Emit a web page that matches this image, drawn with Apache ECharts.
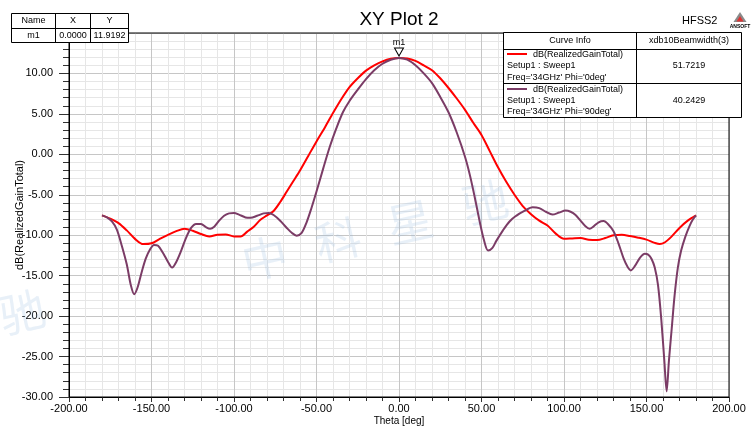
<!DOCTYPE html>
<html><head><meta charset="utf-8">
<script src="https://cdn.jsdelivr.net/npm/echarts@6/dist/echarts.min.js"></script>
<style>html,body{margin:0;padding:0;background:#fff}#c{width:756px;height:430px}</style>
</head><body><div id="c"></div>
<script>
// Phi = 0deg curve
const thetaPhi0 = [-180,-175,-170,-165,-160,-155,-150,-145,-140,-135,-130,-125,-120,-115,-110,-105,-100,-96,-92,-88,-84,-80,-76,-72,-68,-64,-60,-55,-50,-45,-40,-35,-30,-25,-20,-15,-10,-5,0,5,10,15,20,25,30,35,40,45,50,55,60,65,70,75,80,85,90,95,100,105,110,115,120,125,130,135,140,145,150,155,158,161,165,170,175,180];
const gainPhi0 = [-7.55,-7.95,-8.5,-9.4,-10.45,-11.1,-11.0,-10.45,-9.95,-9.5,-9.2,-9.45,-9.85,-10.15,-9.95,-9.9,-10.15,-10.15,-9.55,-8.95,-8.1,-7.55,-7.0,-5.9,-4.6,-3.3,-2.0,-0.2,1.6,3.3,5.1,6.8,8.3,9.4,10.35,11.0,11.5,11.82,11.92,11.85,11.55,11.0,10.4,9.4,8.2,6.9,5.5,3.9,2.4,0.4,-1.6,-3.4,-5.0,-6.4,-7.4,-8.2,-8.8,-9.8,-10.45,-10.4,-10.35,-10.55,-10.6,-10.35,-10.0,-9.95,-10.1,-10.3,-10.55,-10.95,-11.1,-10.9,-10.2,-9.1,-8.2,-7.55];
// Phi = 90deg curve
const thetaPhi90 = [-180,-177,-174,-171,-168,-165,-162.5,-160.5,-158.5,-156,-153.5,-151,-148.5,-146,-143,-140,-137.5,-135,-132,-129,-126,-123,-120,-117,-114.5,-112,-109,-106,-103,-100,-97,-93,-90,-86,-82,-79,-76,-72,-68,-65,-62,-59,-56,-53,-50,-46,-42,-38,-34,-30,-25,-20,-15,-10,-5,0,5,10,15,20,25,30,35,40,43,46,49,51.5,54,56.5,59,63,67,71,76,81,85,89,93,97,101,104,107,110,113,115.5,118,121,124,127,130,133,136,138.5,140.5,143,146,149,151,153,155,157,159,160.8,162.2,163.6,165.3,167,169,171,173.5,176,178,180];
const gainPhi90 = [-7.55,-7.8,-8.3,-9.3,-11.3,-13.6,-16.2,-17.3,-16.5,-14.6,-12.9,-11.8,-11.2,-11.3,-12.2,-13.3,-14.0,-13.3,-11.9,-10.3,-9.1,-8.6,-8.6,-9.0,-9.2,-8.95,-8.2,-7.6,-7.3,-7.25,-7.45,-7.8,-7.85,-7.6,-7.3,-7.25,-7.5,-8.2,-9.1,-9.7,-10.05,-9.7,-8.4,-6.6,-4.6,-1.8,0.9,3.2,5.2,6.6,8.0,9.3,10.4,11.2,11.7,11.92,11.7,11.0,10.0,8.8,7.1,5.2,2.7,-0.3,-2.6,-5.4,-8.4,-10.6,-11.9,-11.6,-10.7,-9.4,-8.3,-7.6,-7.0,-6.55,-6.65,-7.1,-7.45,-7.2,-6.95,-7.1,-7.5,-8.2,-8.9,-9.2,-8.9,-8.4,-8.25,-8.7,-9.5,-11.0,-12.8,-13.9,-14.35,-13.8,-12.8,-12.3,-12.4,-12.9,-14.0,-16.2,-20.5,-25.5,-29.3,-25.5,-21.5,-17.5,-14.0,-11.9,-10.2,-8.9,-8.1,-7.55];
const markerX = 0.0;
const markerY = 11.9192;
const beamwidthPhi0 = '51.7219';
const beamwidthPhi90 = '40.2429';

const FONT = "'Liberation Sans', Arial, sans-serif";
const RED = '#ff0000';
const PURPLE = '#7b3c66';

const chart = echarts.init(document.getElementById('c'), null, {renderer: 'canvas'});

function zip(xs, ys) { return xs.map((x, i) => [x, ys[i]]); }

const txt = (x, y, s, opts) => Object.assign({
  type: 'text', z: 101, x: x, y: y,
  style: Object.assign({text: s, fill: '#000', font: '9px ' + FONT, textAlign: 'left', textVerticalAlign: 'middle'}, opts || {})
});
const ln = (x1, y1, x2, y2, color, w) => ({
  type: 'line', z: 101, shape: {x1, y1, x2, y2}, style: {stroke: color || '#000', lineWidth: w || 1}
});

const wm = (x, y, s, size) => ({
  type: 'text', z: 1, x: x, y: y, rotation: 0.22,
  style: {text: s, fill: 'rgba(140,180,220,0.2)', font: size + 'px "Noto Sans CJK SC"', textAlign: 'center', textVerticalAlign: 'middle'}
});

const option = {
  animation: false,
  backgroundColor: '#fff',
  grid: {left: 69, top: 33, width: 660, height: 364, outerBoundsMode: 'none', containLabel: false,
         show: true, borderColor: '#000', borderWidth: 1, backgroundColor: 'transparent', z: 3},
  xAxis: {
    type: 'value', min: -200, max: 200, interval: 50,
    name: 'Theta [deg]', nameLocation: 'middle', nameGap: 19, nameMoveOverlap: false,
    nameTextStyle: {fontFamily: FONT, fontSize: 10, color: '#000'},
    axisLine: {show: true, onZero: false, lineStyle: {color: '#000', width: 1}},
    axisTick: {show: true, length: 5, lineStyle: {color: '#333'}},
    minorTick: {show: true, splitNumber: 5, length: 4, lineStyle: {color: '#333'}},
    splitLine: {show: true, lineStyle: {color: '#c6c6c6', width: 1}},
    minorSplitLine: {show: true, lineStyle: {color: '#e6e6e6', width: 1}},
    axisLabel: {fontFamily: FONT, fontSize: 11, color: '#000', margin: 6, formatter: v => v.toFixed(2)}
  },
  yAxis: {
    type: 'value', min: -30, max: 15, interval: 5,
    name: 'dB(RealizedGainTotal)', nameLocation: 'middle', nameGap: 44, nameRotate: 90, nameMoveOverlap: false,
    nameTextStyle: {fontFamily: FONT, fontSize: 11, color: '#000'},
    axisLine: {show: true, onZero: false, lineStyle: {color: '#000', width: 1}},
    axisTick: {show: true, length: 10, lineStyle: {color: '#333'}},
    minorTick: {show: true, splitNumber: 5, length: 6, lineStyle: {color: '#333'}},
    splitLine: {show: true, lineStyle: {color: '#c6c6c6', width: 1}},
    minorSplitLine: {show: true, lineStyle: {color: '#e6e6e6', width: 1}},
    axisLabel: {fontFamily: FONT, fontSize: 11, color: '#000', margin: 16, formatter: v => v.toFixed(2)}
  },
  series: [
    {
      name: "Phi='0deg'", type: 'line', data: zip(thetaPhi0, gainPhi0), smooth: 0.3, symbol: 'none',
      lineStyle: {color: RED, width: 2}, z: 4,
      markPoint: {
        symbol: 'triangle', symbolSize: [9, 8], symbolRotate: 180, symbolOffset: [0, -6],
        itemStyle: {color: '#fff', borderColor: '#000', borderWidth: 1},
        label: {show: true, position: 'top', distance: 0, formatter: 'm1', color: '#000', fontFamily: FONT, fontSize: 9},
        data: [{coord: [markerX, markerY]}]
      }
    },
    {
      name: "Phi='90deg'", type: 'line', data: zip(thetaPhi90, gainPhi90), smooth: 0.3, symbol: 'none',
      lineStyle: {color: PURPLE, width: 2}, z: 4
    }
  ],
  graphic: [
    // watermark
    wm(265, 258, '中', 46), wm(338, 240, '科', 46), wm(410, 222, '星', 46), wm(485, 202, '驰', 46),
    wm(22, 312, '驰', 46),
    // title
    txt(399, 20, 'XY Plot 2', {font: '19px ' + FONT, textAlign: 'center'}),
    txt(682, 21, 'HFSS2', {font: '11px ' + FONT}),
    {type: 'polygon', z: 101, shape: {points: [[740, 12], [733.5, 22], [746.5, 22]]}, style: {fill: '#8a8a8a'}},
    {type: 'polygon', z: 102, shape: {points: [[740, 16], [736.5, 21.5], [743.5, 21.5]]}, style: {fill: '#d33'}},
    txt(740, 26.5, 'ANSOFT', {font: 'bold 5px ' + FONT, textAlign: 'center'}),
    // marker table
    {type: 'rect', z: 100, shape: {x: 11.5, y: 13.5, width: 117, height: 29}, style: {fill: '#fff', stroke: '#000', lineWidth: 1}},
    ln(11.5, 28.5, 128.5, 28.5), ln(55.5, 13.5, 55.5, 42.5), ln(90.5, 13.5, 90.5, 42.5),
    txt(33.5, 21, 'Name', {textAlign: 'center'}), txt(73, 21, 'X', {textAlign: 'center'}), txt(109.5, 21, 'Y', {textAlign: 'center'}),
    txt(33.5, 36, 'm1', {textAlign: 'center'}), txt(73, 36, markerX.toFixed(4), {textAlign: 'center'}), txt(109.5, 36, markerY.toFixed(4), {textAlign: 'center'}),
    // curve info table
    {type: 'rect', z: 100, shape: {x: 503.5, y: 32.5, width: 238, height: 85}, style: {fill: '#fff', stroke: '#000', lineWidth: 1}},
    ln(503.5, 49.5, 741.5, 49.5), ln(503.5, 83.5, 741.5, 83.5), ln(636.5, 32.5, 636.5, 117.5),
    txt(570, 41, 'Curve Info', {textAlign: 'center'}), txt(689, 41, 'xdb10Beamwidth(3)', {textAlign: 'center'}),
    ln(507, 54, 527, 54, RED, 2),
    txt(533, 54.5, 'dB(RealizedGainTotal)'), txt(507, 66, 'Setup1 : Sweep1'), txt(507, 77.5, "Freq='34GHz' Phi='0deg'"),
    txt(689, 66, beamwidthPhi0, {textAlign: 'center'}),
    ln(507, 89, 527, 89, PURPLE, 2),
    txt(533, 89.5, 'dB(RealizedGainTotal)'), txt(507, 100.5, 'Setup1 : Sweep1'), txt(507, 112, "Freq='34GHz' Phi='90deg'"),
    txt(689, 101, beamwidthPhi90, {textAlign: 'center'})
  ]
};
chart.setOption(option);
</script></body></html>
